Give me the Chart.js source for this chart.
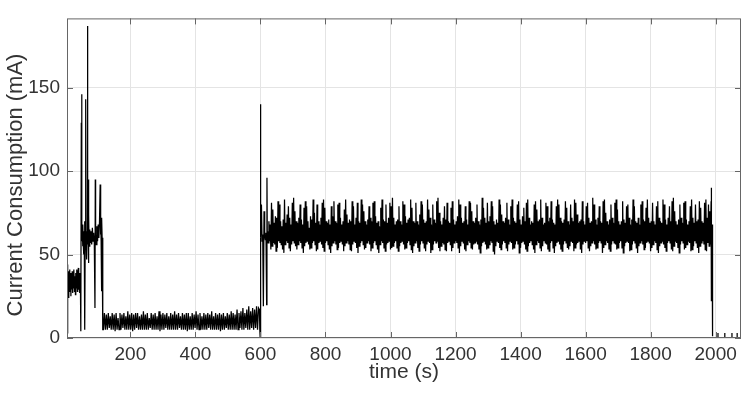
<!DOCTYPE html>
<html>
<head>
<meta charset="utf-8">
<title>Current consumption</title>
<script src="https://cdn.jsdelivr.net/npm/chart.js@4.4.1/dist/chart.umd.min.js"></script>
<style>
    body { margin: 0; background: #fff; }
    #wrap { width: 748px; height: 402px; }
</style>
</head>
<body>
<div id="wrap"><canvas id="currentChart" width="748" height="402"></canvas></div>
<script>
// axis ticks
const xTicks = [200, 400, 600, 800, 1000, 1200, 1400, 1600, 1800, 2000];
const yTicks = [0, 50, 100, 150];

// start-up phase, read point by point (s / mA)
const startupTime = [5, 6, 7, 8, 9, 10, 11, 12, 13, 14, 16, 17, 18, 19, 21, 22, 23, 25, 26, 28,
    29, 31, 32, 34, 35, 37, 38, 40, 41, 43, 44, 46, 47, 48, 49, 50, 51, 52, 53, 54,
    55, 56, 57, 58, 59, 60, 61, 62, 63, 64, 65, 66, 67, 68, 69, 70, 71, 72, 73, 75,
    77, 79, 81, 83, 85, 87, 89, 91, 92, 93, 95, 97, 99, 101, 103, 105, 107, 108, 109, 110,
    111, 112, 113, 115];
const startupCurrent = [3, 44, 22, 26, 40, 24, 38, 28, 41, 30, 39, 25, 37, 29, 40, 27, 38, 30, 41, 28,
    37, 26, 39, 30, 41, 28, 38, 42, 29, 39, 27, 38, 30, 4, 129, 146, 58, 66, 55, 68,
    57, 64, 50, 61, 70, 5, 60, 66, 143, 58, 64, 47, 62, 187, 56, 95, 45, 74, 55, 65,
    57, 64, 56, 66, 58, 63, 57, 18, 95, 62, 56, 67, 58, 68, 60, 70, 92, 62, 72, 58,
    28, 72, 60, 5];

// idle phase, one reading every 3 s
const idleStart = 117;
const idleStep = 3;
const idleCurrent = [
    5, 15, 5, 14, 5, 15, 6, 13, 5, 15, 5, 14, 4, 15, 5, 12, 5, 15, 5, 14,
    6, 15, 5, 13, 5, 16, 5, 14, 5, 15, 4, 14, 5, 15, 6, 15, 5, 13, 5, 14,
    5, 16, 5, 14, 5, 15, 5, 12, 6, 15, 5, 14, 5, 15, 5, 13, 5, 16, 4, 14,
    5, 15, 5, 14, 6, 15, 5, 13, 5, 15, 5, 14, 5, 16, 5, 14, 5, 15, 6, 13,
    5, 15, 5, 14, 5, 15, 4, 15, 5, 13, 5, 15, 5, 14, 6, 16, 5, 14, 5, 15,
    5, 13, 5, 15, 5, 14, 5, 15, 6, 14, 5, 16, 5, 13, 5, 15, 5, 14, 5, 15,
    4, 14, 5, 15, 5, 13, 6, 15, 5, 14, 5, 16, 5, 15, 5, 14, 5, 17, 5, 15,
    6, 16, 5, 18, 5, 15, 6, 17, 5, 19, 5, 16, 6, 18, 5, 17, 6, 19, 5, 18,
    17];

// wake-up around 600 s
const wakeTime = [598, 599, 600, 601, 603, 605, 607, 609, 611, 613, 615, 617, 619, 620, 621, 622];
const wakeCurrent = [5, 1, 140, 60, 80, 58, 62, 19, 76, 62, 59, 63, 20, 96, 60, 64];

// active phase: lowest and highest reading in each 4 s window
const activeStart = 624;
const activeStep = 4;
const activeHigh = [
    70, 68, 81, 77, 69, 73, 72, 82, 80, 70, 67, 71, 83, 69, 74, 79, 72, 68, 81, 84,
    76, 70, 69, 72, 80, 71, 68, 78, 82, 79, 70, 66, 73, 71, 83, 75, 69, 80, 70, 68,
    72, 81, 83, 78, 70, 69, 71, 68, 79, 73, 82, 70, 69, 80, 81, 72, 68, 70, 77, 83,
    74, 69, 71, 70, 82, 79, 68, 72, 81, 70, 69, 83, 80, 76, 70, 68, 71, 79, 72, 70,
    81, 82, 73, 69, 70, 67, 78, 83, 71, 70, 80, 69, 72, 81, 79, 84, 72, 68, 70, 71,
    79, 70, 68, 82, 80, 73, 69, 71, 72, 83, 78, 70, 69, 81, 70, 68, 74, 82, 80, 71,
    69, 70, 83, 77, 72, 68, 80, 71, 69, 82, 84, 75, 70, 68, 72, 79, 71, 81, 70, 69,
    78, 82, 71, 68, 70, 73, 83, 80, 72, 69, 70, 79, 71, 68, 82, 81, 76, 70, 69, 72,
    80, 70, 68, 71, 84, 78, 72, 69, 81, 70, 73, 82, 79, 70, 68, 71, 69, 83, 80, 74,
    70, 69, 72, 81, 71, 68, 79, 83, 72, 70, 69, 80, 82, 71, 68, 73, 78, 70, 81, 83,
    72, 68, 70, 69, 80, 82, 77, 70, 71, 83, 72, 68, 69, 81, 79, 70, 72, 82, 71, 69,
    68, 79, 83, 80, 72, 70, 69, 71, 82, 78, 70, 68, 80, 72, 70, 83, 81, 74, 69, 70,
    71, 82, 70, 68, 79, 81, 72, 69, 70, 84, 80, 71, 68, 72, 79, 70, 69, 82, 83, 75,
    70, 68, 71, 80, 72, 69, 81, 83, 77, 70, 68, 70, 82, 71, 69, 79, 80, 72, 68, 71,
    83, 79, 70, 69, 72, 68, 80, 82, 71, 70, 78, 83, 72, 69, 70, 81, 70, 68, 79, 82,
    72, 70, 69, 83, 80, 71, 68, 72, 79, 70, 82, 84, 76, 70, 68, 71, 80, 72, 69, 81,
    82, 71, 68, 70, 79, 83, 72, 69, 80, 70, 71, 82, 78, 70, 69, 81, 83, 72, 80, 76,
    82];
const activeLow = [
    57, 58, 53, 55, 57, 56, 52, 54, 58, 57, 56, 53, 51, 56, 58, 57, 54, 52, 56, 58,
    57, 55, 53, 56, 58, 57, 54, 51, 55, 57, 58, 56, 53, 54, 57, 58, 56, 52, 53, 57,
    58, 56, 54, 52, 57, 58, 56, 53, 51, 55, 57, 58, 56, 53, 54, 57, 58, 56, 52, 55,
    57, 58, 56, 53, 52, 56, 58, 57, 54, 51, 55, 57, 58, 56, 53, 54, 57, 58, 56, 52,
    54, 57, 58, 56, 53, 51, 56, 58, 57, 54, 52, 56, 57, 58, 53, 54, 55, 57, 58, 54,
    52, 55, 57, 58, 56, 53, 54, 57, 58, 56, 53, 51, 55, 57, 58, 54, 52, 56, 58, 57,
    54, 52, 56, 58, 57, 51, 53, 56, 58, 57, 58, 54, 52, 55, 57, 56, 53, 52, 57, 58,
    56, 52, 54, 57, 58, 57, 54, 51, 55, 58, 57, 53, 52, 56, 58, 57, 54, 53, 56, 57,
    58, 56, 53, 51, 55, 57, 58, 56, 53, 54, 56, 58, 57, 52, 50, 55, 58, 57, 54, 53,
    56, 58, 57, 54, 52, 56, 58, 57, 53, 54, 56, 58, 56, 51, 54, 57, 58, 56, 53, 52,
    55, 57, 58, 56, 53, 51, 56, 58, 57, 54, 52, 55, 58, 57, 56, 53, 52, 57, 58, 54,
    51, 55, 57, 58, 56, 53, 52, 56, 58, 57, 54, 53, 55, 58, 57, 52, 54, 56, 57, 58,
    53, 51, 56, 58, 57, 58, 54, 52, 55, 57, 58, 56, 53, 54, 57, 58, 57, 51, 54, 56,
    58, 57, 53, 52, 56, 58, 57, 56, 53, 54, 57, 58, 54, 51, 55, 57, 58, 57, 52, 53,
    56, 58, 57, 54, 51, 55, 57, 58, 56, 53, 54, 57, 58, 57, 52, 54, 56, 58, 57, 53,
    51, 55, 57, 58, 56, 54, 52, 57, 58, 57, 53, 52, 55, 58, 57, 54, 51, 56, 58, 57,
    53, 54, 56, 58, 57, 52, 53, 55, 58, 57, 54, 51, 55, 57, 58, 56, 53, 52, 57, 55,
    56];

// shutdown and the few readings after it (null = no reading)
const endTime = [1986, 1987, 1988, 1989, 1990, 1991, 1995, 2007, 2007.2, 2010, 2028, 2028.2, 2031,
    2050, 2050.2, 2053, 2066, 2066.2];
const endCurrent = [90, 62, 22, 68, 4, 1, null, 0.5, 3, null, 0.5, 3, null,
    0.5, 3, null, 0.5, 3];

const points = [];
startupTime.forEach((t, i) => points.push({x: t, y: startupCurrent[i]}));
idleCurrent.forEach((v, i) => points.push({x: idleStart + i * idleStep, y: v}));
wakeTime.forEach((t, i) => points.push({x: t, y: wakeCurrent[i]}));
activeHigh.forEach((v, i) => {
    const t = activeStart + i * activeStep;
    points.push({x: t, y: activeLow[i]});
    points.push({x: t + activeStep / 2, y: v});
});
endTime.forEach((t, i) => points.push({x: t, y: endCurrent[i]}));

const fontFamily = '"Liberation Sans", Arial, sans-serif';

// matlab style box, inward ticks and the y label
const boxPlugin = {
    id: 'box',
    afterDraw(chart) {
        const {ctx, chartArea: a, scales} = chart;
        ctx.save();
        ctx.strokeStyle = '#666';
        ctx.lineWidth = 1;
        ctx.strokeRect(a.left + 0.5, a.top + 0.5, a.right - a.left - 1, a.bottom - a.top - 1);
        ctx.beginPath();
        xTicks.forEach(v => {
            const px = Math.round(scales.x.getPixelForValue(v)) + 0.5;
            ctx.moveTo(px, a.bottom);
            ctx.lineTo(px, a.bottom - 6);
            ctx.moveTo(px, a.top);
            ctx.lineTo(px, a.top + 6);
        });
        yTicks.forEach(v => {
            const py = Math.round(scales.y.getPixelForValue(v)) + 0.5;
            ctx.moveTo(a.left, py);
            ctx.lineTo(a.left + 6, py);
            ctx.moveTo(a.right, py);
            ctx.lineTo(a.right - 6, py);
        });
        ctx.stroke();

        ctx.translate(15.5, 185);
        ctx.rotate(-Math.PI / 2);
        ctx.font = '22px ' + fontFamily;
        ctx.fillStyle = '#333';
        ctx.textAlign = 'center';
        ctx.textBaseline = 'middle';
        ctx.fillText('Current Consumption (mA)', 0, 0);
        ctx.restore();
    }
};

new Chart(document.getElementById('currentChart'), {
    type: 'line',
    data: {
        datasets: [{
            data: points,
            borderColor: '#000',
            borderWidth: 1.25,
            pointRadius: 0,
            tension: 0,
            spanGaps: false
        }]
    },
    options: {
        responsive: false,
        animation: false,
        layout: { padding: { top: 7, right: 7, left: 0, bottom: 0 } },
        plugins: {
            legend: { display: false },
            tooltip: { enabled: false }
        },
        scales: {
            x: {
                type: 'linear',
                min: 5,
                max: 2078,
                afterBuildTicks: scale => { scale.ticks = xTicks.map(v => ({value: v})); },
                afterFit: scale => { scale.height = 64; },
                grid: { color: '#e4e4e4', drawTicks: false },
                border: { display: false },
                ticks: {
                    padding: 5,
                    maxRotation: 0,
                    color: '#333',
                    font: { family: fontFamily, size: 19 },
                    callback: value => String(value)
                },
                title: {
                    display: true,
                    text: 'time (s)',
                    color: '#333',
                    font: { family: fontFamily, size: 21 },
                    padding: { top: 0, bottom: 17 }
                }
            },
            y: {
                min: 0,
                max: 191.5,
                afterBuildTicks: scale => { scale.ticks = yTicks.map(v => ({value: v})); },
                afterFit: scale => { scale.width = 67; },
                grid: { color: '#e4e4e4', drawTicks: false },
                border: { display: false },
                ticks: {
                    padding: 7,
                    color: '#333',
                    font: { family: fontFamily, size: 19 },
                    callback: value => String(value)
                }
            }
        }
    },
    plugins: [boxPlugin]
});
</script>
</body>
</html>
